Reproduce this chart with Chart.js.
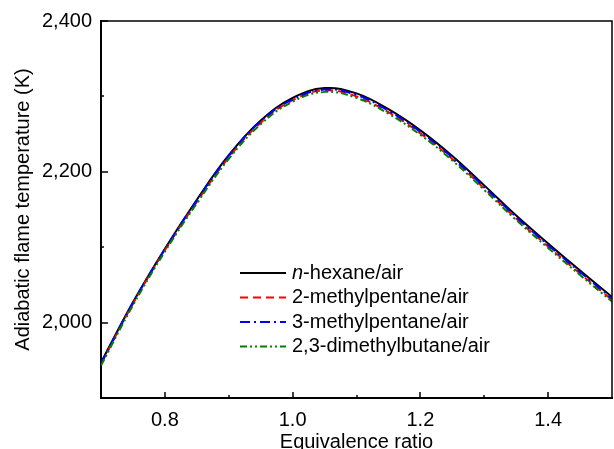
<!DOCTYPE html>
<html>
<head>
<meta charset="utf-8">
<script src="https://cdn.jsdelivr.net/npm/chart.js@4/dist/chart.umd.min.js"></script>
<style>
  html, body { margin: 0; padding: 0; background: #fff; }
  #wrap { width: 614px; height: 449px; }
</style>
</head>
<body>
<div id="wrap"><canvas id="chartFlame" width="614" height="449"></canvas></div>
<script>
// equivalence ratio
const phi = [0.70, 0.75, 0.80, 0.85, 0.90, 0.95, 1.00, 1.05, 1.10, 1.15, 1.20, 1.25, 1.30, 1.35, 1.40, 1.45, 1.50];

// adiabatic flame temperature (K)
const nHexane        = [1947, 2027, 2098, 2163, 2222, 2268, 2298, 2311, 2304, 2283, 2255, 2221, 2182, 2142, 2105, 2069, 2034];
const methylPentane2 = [1945, 2025, 2096, 2160, 2219, 2265, 2295, 2308, 2300, 2279, 2251, 2217, 2178, 2138, 2101, 2065, 2030];
const methylPentane3 = [1946, 2026, 2097, 2162, 2221, 2267, 2296, 2309, 2302, 2281, 2253, 2219, 2180, 2140, 2103, 2067, 2032];
const dimethylButane = [1943, 2023, 2094, 2158, 2217, 2263, 2293, 2306, 2298, 2277, 2249, 2215, 2176, 2136, 2099, 2063, 2028];

const xTicks = [0.8, 1.0, 1.2, 1.4];
const xMinor = [0.9, 1.1, 1.3];
const yTicks = [2000, 2200, 2400];
const yMinor = [2100, 2300];

const FONT = "Arial, 'Liberation Sans', sans-serif";

function toPoints(ys) {
    return phi.map((p, i) => ({ x: p, y: ys[i] }));
}

// top/right frame and inward ticks
const frameTicks = {
    id: "frameTicks",
    afterDraw(chart) {
        const { ctx, chartArea: a, scales } = chart;
        ctx.save();
        ctx.strokeStyle = "#000";
        ctx.lineWidth = 1.5;
        ctx.beginPath();
        ctx.moveTo(a.left, a.top);
        ctx.lineTo(a.right, a.top);
        ctx.lineTo(a.right, a.bottom);
        ctx.stroke();

        ctx.beginPath();
        xTicks.forEach(v => {
            const px = Math.round(scales.x.getPixelForValue(v));
            ctx.moveTo(px, a.bottom); ctx.lineTo(px, a.bottom - 6);
        });
        xMinor.forEach(v => {
            const px = Math.round(scales.x.getPixelForValue(v));
            ctx.moveTo(px, a.bottom); ctx.lineTo(px, a.bottom - 3);
        });
        yTicks.forEach(v => {
            const py = Math.round(scales.y.getPixelForValue(v));
            ctx.moveTo(a.left, py); ctx.lineTo(a.left + 7, py);
        });
        yMinor.forEach(v => {
            const py = Math.round(scales.y.getPixelForValue(v));
            ctx.moveTo(a.left, py); ctx.lineTo(a.left + 3, py);
        });
        ctx.stroke();
        ctx.restore();
    }
};

// legend drawn inside the plot
const innerLegend = {
    id: "innerLegend",
    afterDraw(chart) {
        const ctx = chart.ctx;
        const x0 = 240, x1 = 286, tx = 292, y0 = 273, dy = 24.5;
        ctx.save();
        chart.data.datasets.forEach((ds, i) => {
            const y = y0 + i * dy;
            ctx.strokeStyle = ds.borderColor;
            ctx.lineWidth = ds.borderWidth;
            ctx.setLineDash(ds.borderDash || []);
            ctx.beginPath();
            ctx.moveTo(x0, y);
            ctx.lineTo(x1, y);
            ctx.stroke();
            ctx.setLineDash([]);

            ctx.fillStyle = "#000";
            ctx.textBaseline = "middle";
            ctx.textAlign = "left";
            let x = tx;
            if (ds.italicPrefix) {
                ctx.font = "italic 20px " + FONT;
                ctx.fillText(ds.italicPrefix, x, y);
                x += ctx.measureText(ds.italicPrefix).width;
            }
            ctx.font = "20px " + FONT;
            ctx.fillText(ds.label.slice((ds.italicPrefix || "").length), x, y);
        });
        ctx.restore();
    }
};

new Chart(document.getElementById("chartFlame"), {
    type: "line",
    data: {
        datasets: [
            { label: "n-hexane/air", italicPrefix: "n", data: toPoints(nHexane),
              borderColor: "#000000", borderWidth: 2, order: 4 },
            { label: "2-methylpentane/air", data: toPoints(methylPentane2),
              borderColor: "#ff0000", borderWidth: 2, borderDash: [8, 5], order: 3 },
            { label: "3-methylpentane/air", data: toPoints(methylPentane3),
              borderColor: "#0000ff", borderWidth: 2, borderDash: [10, 4, 2, 4], order: 2 },
            { label: "2,3-dimethylbutane/air", data: toPoints(dimethylButane),
              borderColor: "#008000", borderWidth: 2, borderDash: [7, 3, 2, 3, 2, 3], order: 1 }
        ]
    },
    options: {
        responsive: false,
        animation: false,
        devicePixelRatio: 1,
        layout: { padding: { top: 20, right: 2, left: 0, bottom: 0 } },
        elements: {
            point: { radius: 0 },
            line: { tension: 0.4, fill: false }
        },
        plugins: {
            legend: { display: false },
            tooltip: { enabled: false }
        },
        scales: {
            x: {
                type: "linear",
                min: 0.7,
                max: 1.5,
                afterBuildTicks: s => { s.ticks = xTicks.map(v => ({ value: v })); },
                afterFit: s => { s.height = 51; },
                grid: { display: false, drawTicks: false },
                border: { display: true, color: "#000", width: 2 },
                ticks: {
                    padding: 10,
                    color: "#000",
                    font: { family: FONT, size: 20 },
                    maxRotation: 0,
                    callback: v => Number(v).toFixed(1)
                },
                title: {
                    display: true,
                    text: "Equivalence ratio",
                    color: "#000",
                    font: { family: FONT, size: 20 },
                    padding: { top: 0, bottom: -5 }
                }
            },
            y: {
                min: 1900,
                max: 2400,
                afterBuildTicks: s => { s.ticks = yTicks.map(v => ({ value: v })); },
                afterFit: s => { s.width = 101; },
                grid: { display: false, drawTicks: false },
                border: { display: true, color: "#000", width: 2 },
                ticks: {
                    padding: 9,
                    color: "#000",
                    font: { family: FONT, size: 20 },
                    callback: v => Number(v).toLocaleString("en-US")
                },
                title: {
                    display: true,
                    text: "Adiabatic flame temperature (K)",
                    color: "#000",
                    font: { family: FONT, size: 20 },
                    padding: { top: 11, bottom: 0 }
                }
            }
        }
    },
    plugins: [frameTicks, innerLegend]
});
</script>
</body>
</html>
